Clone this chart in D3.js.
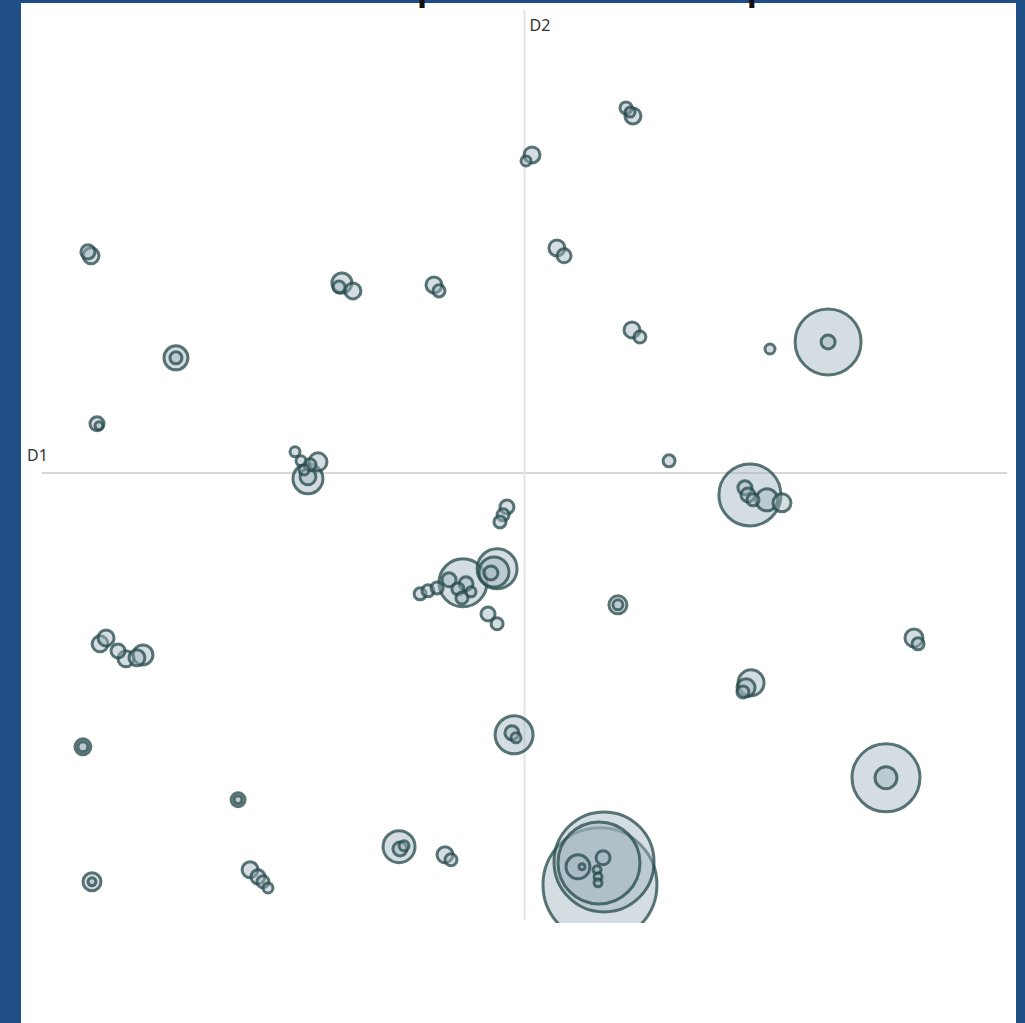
<!DOCTYPE html>
<html>
<head>
<meta charset="utf-8">
<script src="https://d3js.org/d3.v7.min.js"></script>
<style>
    body { margin: 0; background: #1f4d85; }
    .dim-label { font-family: "Noto Sans", sans-serif; font-size: 16px; fill: #333; }
</style>
</head>
<body>
<script>
// coordinates of each bubble on the first factorial plane (D1, D2) and its weight
const groups = [
    "A","A","A","B","B","C","C","D","D","E","E","E","F","F","G","G","H","H","I","J","J",
    "K","K","L","L","L","L","L","L","L","M","N","N","N","N","N","N","O","O","O",
    "P","P","P","P","P","P","P","P","P","Q","Q","Q","R","R","S","S","T","T",
    "U","U","U","U","U","U","V","V","V","W","W","W","X","X","Y","Y","Z","Z",
    "AA","AA","AA","AB","AB","AC","AC","AC","AC","AC","AC","AC","AC","AC",
    "AD","AD","AE","AE","AE","AE"
];
const d1 = [
    0.526, 0.562, 0.547, 0.039, 0.008, -2.262, -2.246, 0.168, 0.205, -0.946, -0.889, -0.961,
    -0.469, -0.443, -1.806, -1.806, 0.557, 0.598, 1.272, 1.573, 1.573,
    -2.215, -2.205, -1.189, -1.158, -1.111, -1.070, -1.122, -1.122, -1.142, 0.749,
    1.168, 1.142, 1.158, 1.184, 1.256, 1.334, -0.091, -0.111, -0.127,
    -0.319, -0.391, -0.345, -0.303, -0.324, -0.277, -0.541, -0.500, -0.453,
    -0.142, -0.158, -0.174, -0.189, -0.142, 0.484, 0.484, 2.018, 2.039,
    -2.199, -2.168, -2.106, -2.065, -2.008, -1.977, 1.174, 1.148, 1.132,
    -0.054, -0.065, -0.044, -2.288, -2.288, 1.873, 1.873, -1.484, -1.484,
    -0.650, -0.645, -0.624, -0.412, -0.381,
    0.391, 0.412, 0.386, 0.277, 0.407, 0.376, 0.381, 0.381, 0.298,
    -2.241, -2.241, -1.422, -1.381, -1.355, -1.329
];
const d2 = [
    1.853, 1.812, 1.832, 1.614, 1.584, 1.122, 1.102, 1.142, 1.102, 0.964, 0.924, 0.944,
    0.954, 0.924, 0.584, 0.584, 0.726, 0.690, 0.629, 0.665, 0.665,
    0.249, 0.239, 0.107, 0.061, 0.041, 0.056, -0.030, -0.020, 0.015, 0.061,
    -0.112, -0.076, -0.112, -0.137, -0.137, -0.152, -0.173, -0.213, -0.249,
    -0.558, -0.543, -0.589, -0.563, -0.635, -0.604, -0.614, -0.599, -0.584,
    -0.487, -0.503, -0.508, -0.716, -0.766, -0.670, -0.670, -0.838, -0.868,
    -0.868, -0.838, -0.904, -0.944, -0.939, -0.924, -1.066, -1.091, -1.112,
    -1.330, -1.320, -1.345, -1.391, -1.391, -1.548, -1.548, -1.660, -1.660,
    -1.898, -1.909, -1.893, -1.939, -1.964,
    -2.091, -1.975, -1.980, -2.000, -1.954, -2.015, -2.051, -2.081, -2.000,
    -2.076, -2.076, -2.015, -2.051, -2.076, -2.107
];
const sizes = [
    1.11, 1.97, 0.77, 1.97, 0.77, 1.51, 1.97, 1.97, 1.51, 3.08, 1.97, 1.11,
    1.97, 1.11, 4.43, 1.11, 1.97, 1.11, 0.77, 33.52, 1.51,
    1.51, 0.49, 0.77, 0.77, 1.11, 2.49, 6.93, 1.97, 0.77, 1.11,
    29.58, 1.51, 1.51, 1.11, 3.72, 2.49, 1.51, 1.11, 1.11,
    17.73, 1.51, 1.11, 1.51, 1.11, 0.77, 1.11, 1.11, 1.11,
    12.31, 6.93, 1.51, 1.51, 1.11, 2.49, 0.77, 2.49, 1.11,
    1.97, 1.97, 1.51, 1.97, 1.97, 3.08, 5.20, 2.49, 1.11,
    11.11, 1.51, 0.77, 1.97, 0.77, 35.58, 3.72, 1.51, 0.49,
    7.88, 1.51, 0.77, 1.97, 1.11,
    100, 76.95, 51.74, 4.43, 1.51, 0.49, 0.49, 0.49, 0.28,
    2.49, 0.49, 1.97, 1.51, 1.11, 0.77
];
const dimLabels = ["D1", "D2"];
const title = "Carte des proximités dans le plan";

const width = 1025, height = 1023;
const svg = d3.select("body").append("svg").attr("width", width).attr("height", height);

// blue page and white panel
svg.append("rect").attr("width", width).attr("height", height).attr("fill", "#1f4d85");
svg.append("rect").attr("x", 21).attr("y", 3).attr("width", 995).attr("height", 1020).attr("fill", "white");

const x = d3.scaleLinear().domain([-2.5, 2.5]).range([42, 1007]);
const y = d3.scaleLinear().domain([-2.27, 2.35]).range([920, 10]);
const r = d3.scaleSqrt().domain([0, 100]).range([0, 57]);

svg.append("defs").append("clipPath").attr("id", "plot-clip")
    .append("rect").attr("x", 21).attr("y", 3).attr("width", 995).attr("height", 920);

// axes through the origin
svg.append("line")
    .attr("x1", x(-2.5)).attr("x2", x(2.5))
    .attr("y1", y(0)).attr("y2", y(0))
    .attr("stroke", "#d8d8d8").attr("stroke-width", 2);
svg.append("line")
    .attr("x1", x(0)).attr("x2", x(0))
    .attr("y1", y(2.35)).attr("y2", y(-2.27))
    .attr("stroke", "#e4e4e4").attr("stroke-width", 2);

svg.append("text").attr("class", "dim-label")
    .attr("x", x(-2.5) - 15).attr("y", y(0) - 12)
    .text(dimLabels[0]);
svg.append("text").attr("class", "dim-label")
    .attr("x", x(0) + 5).attr("y", 31)
    .text(dimLabels[1]);

const data = d1.map((v, i) => ({ group: groups[i], d1: v, d2: d2[i], size: sizes[i] }))
    .sort((a, b) => b.size - a.size);

svg.append("g").attr("clip-path", "url(#plot-clip)")
    .selectAll("circle")
    .data(data)
    .join("circle")
    .attr("cx", d => x(d.d1))
    .attr("cy", d => y(d.d2))
    .attr("r", d => r(d.size))
    .attr("fill", "#9fb4bf")
    .attr("fill-opacity", 0.45)
    .attr("stroke", "#244848")
    .attr("stroke-opacity", 0.75)
    .attr("stroke-width", 3);

// heading sitting above the frame, only its descenders show
const t = svg.append("text")
    .attr("font-family", "Liberation Sans, Arial, sans-serif")
    .attr("font-weight", "bold")
    .attr("font-size", 40)
    .attr("fill", "#111")
    .attr("y", 0)
    .text(title);
const p1 = title.indexOf("p"), p2 = title.lastIndexOf("p");
let gap = t.node().getStartPositionOfChar(p2).x - t.node().getStartPositionOfChar(p1).x;
const fs = 40 * 330 / gap;
t.attr("font-size", fs);
const off = t.node().getStartPositionOfChar(p1).x;
t.attr("x", 417 - off);
</script>
</body>
</html>
